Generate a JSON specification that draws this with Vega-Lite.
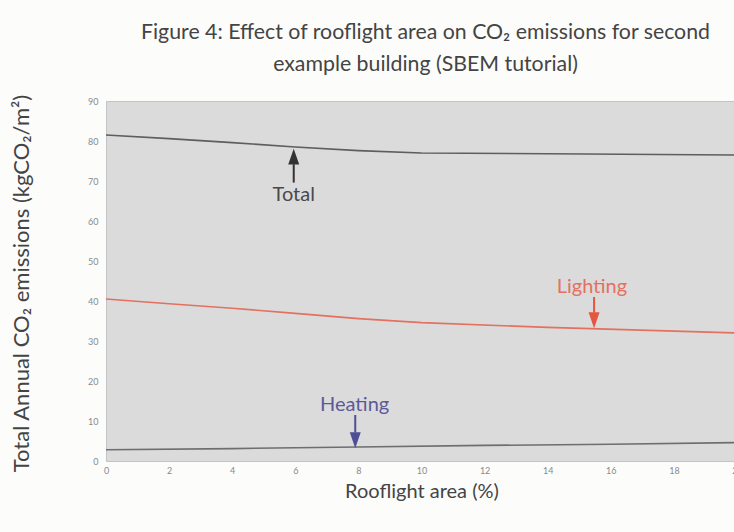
{
  "$schema": "https://vega.github.io/schema/vega-lite/v6.json",
  "width": 631,
  "height": 360,
  "autosize": "none",
  "padding": {"left": 106, "top": 101, "right": 0, "bottom": 71},
  "background": "#fcfcfb",
  "config": {
    "font": "Lato",
    "view": {"fill": "#dcdbdb", "stroke": "#c4c4c4"},
    "axis": {"grid": false, "labelFont": "Lato", "titleFont": "Lato"}
  },
  "title": {
    "text": ["Figure 4: Effect of rooflight area on CO₂ emissions for second", "example building (SBEM tutorial)"],
    "font": "Lato",
    "fontSize": 21.3,
    "fontWeight": "normal",
    "color": "#444444",
    "anchor": "middle",
    "frame": "group",
    "offset": 19,
    "lineHeight": 32,
    "dx": 4
  },
  "datasets": {
    "lines": [
      {"series": "Total", "x": 0, "y": 81.5},
      {"series": "Total", "x": 2, "y": 80.6},
      {"series": "Total", "x": 4, "y": 79.6},
      {"series": "Total", "x": 6, "y": 78.5},
      {"series": "Total", "x": 8, "y": 77.6},
      {"series": "Total", "x": 10, "y": 77.0},
      {"series": "Total", "x": 14, "y": 76.8},
      {"series": "Total", "x": 20, "y": 76.5},
      {"series": "Lighting", "x": 0, "y": 40.5},
      {"series": "Lighting", "x": 2, "y": 39.3},
      {"series": "Lighting", "x": 4, "y": 38.2},
      {"series": "Lighting", "x": 6, "y": 36.9},
      {"series": "Lighting", "x": 8, "y": 35.6},
      {"series": "Lighting", "x": 10, "y": 34.6},
      {"series": "Lighting", "x": 14, "y": 33.4},
      {"series": "Lighting", "x": 20, "y": 32.0},
      {"series": "Heating", "x": 0, "y": 2.8},
      {"series": "Heating", "x": 4, "y": 3.1},
      {"series": "Heating", "x": 8, "y": 3.5},
      {"series": "Heating", "x": 12, "y": 3.9},
      {"series": "Heating", "x": 16, "y": 4.2},
      {"series": "Heating", "x": 20, "y": 4.6}
    ],
    "shafts": [
      {"label": "Total", "x": 5.95, "y": 69.6, "y2": 74.2},
      {"label": "Lighting", "x": 15.47, "y": 41.0, "y2": 37.1},
      {"label": "Heating", "x": 7.9, "y": 11.5, "y2": 7.1}
    ],
    "heads": [
      {"label": "Total", "x": 5.95, "y": 76.1, "dir": "up"},
      {"label": "Lighting", "x": 15.47, "y": 35.2, "dir": "down"},
      {"label": "Heating", "x": 7.9, "y": 5.2, "dir": "down"}
    ],
    "labels": [
      {"label": "Total", "x": 5.95, "y": 66.4},
      {"label": "Lighting", "x": 15.4, "y": 43.6},
      {"label": "Heating", "x": 7.88, "y": 14.0}
    ]
  },
  "encoding": {
    "x": {
      "field": "x", "type": "quantitative",
      "scale": {"domain": [0, 20]},
      "axis": {
        "values": [0, 2, 4, 6, 8, 10, 12, 14, 16, 18, 20],
        "title": "Rooflight area (%)",
        "titleFontSize": 20, "titleFontWeight": "normal", "titleColor": "#444444",
        "titlePadding": 6,
        "labelFontSize": 9, "labelColor": "#8a8a8a", "labelPadding": 5,
        "labelOverlap": false, "labelFlush": false,
        "tickSize": 0, "domain": false
      }
    },
    "y": {
      "field": "y", "type": "quantitative",
      "scale": {"domain": [0, 90], "nice": false},
      "axis": {
        "values": [0, 10, 20, 30, 40, 50, 60, 70, 80, 90],
        "title": "Total Annual CO₂ emissions (kgCO₂/m²)",
        "titleFontSize": 22, "titleFontWeight": "normal", "titleColor": "#444444",
        "titleX": -73, "titleY": 182, "titleAnchor": "middle",
        "labelFontSize": 9, "labelColor": "#8a8a8a", "labelPadding": 8,
        "labelOverlap": false, "labelFlush": false, "labelBound": false,
        "tickSize": 0, "domain": false
      }
    }
  },
  "layer": [
    {
      "data": {"name": "lines"},
      "mark": {"type": "line", "strokeWidth": 1.6},
      "encoding": {
        "color": {
          "field": "series", "type": "nominal",
          "scale": {"domain": ["Total", "Lighting", "Heating"], "range": ["#5e5e5e", "#e4705f", "#6e6e6e"]},
          "legend": null
        }
      }
    },
    {
      "data": {"name": "shafts"},
      "mark": {"type": "rule", "strokeWidth": 2},
      "encoding": {
        "y2": {"field": "y2"},
        "color": {"field": "label", "type": "nominal", "scale": {"domain": ["Total", "Lighting", "Heating"], "range": ["#333333", "#e4563f", "#4e4e96"]}, "legend": null}
      }
    },
    {
      "data": {"name": "heads"},
      "mark": {"type": "point", "filled": true, "opacity": 1, "size": 121, "strokeWidth": 0},
      "encoding": {
        "shape": {"field": "dir", "type": "nominal", "scale": {"domain": ["up", "down"], "range": ["M-1,1.45L1,1.45L0,-1.45Z", "M-1,-1.45L1,-1.45L0,1.45Z"]}, "legend": null},
        "color": {"field": "label", "type": "nominal", "scale": {"domain": ["Total", "Lighting", "Heating"], "range": ["#333333", "#e4563f", "#4e4e96"]}, "legend": null}
      }
    },
    {
      "data": {"name": "labels"},
      "mark": {"type": "text", "fontSize": 20, "font": "Lato", "baseline": "middle", "align": "center"},
      "encoding": {
        "text": {"field": "label"},
        "color": {"field": "label", "type": "nominal", "scale": {"domain": ["Total", "Lighting", "Heating"], "range": ["#4a4a4a", "#e4705f", "#5a5a9a"]}, "legend": null}
      }
    }
  ],
  "resolve": {"scale": {"color": "independent"}}
}
